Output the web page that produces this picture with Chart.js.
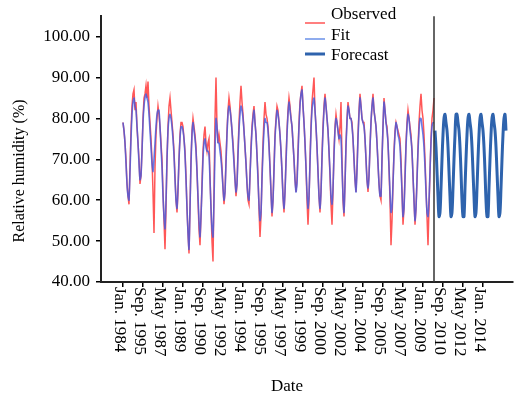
<!DOCTYPE html>
<html>
<head>
<meta charset="utf-8">
<script src="https://cdn.jsdelivr.net/npm/chart.js@4.4.1/dist/chart.umd.min.js"></script>
<style>
  body { margin: 0; background: #fff; }
</style>
</head>
<body>
<canvas id="humidityChart" width="515" height="397"></canvas>
<script>
// Monthly relative humidity (%), month 0 = Jan. 1984, last = Dec. 2009
const observed = [
    79, 77, 74, 70, 64, 61, 59, 68, 77, 83, 86, 87, // 1984
    82, 84, 78, 74, 70, 64, 66, 72, 80, 85, 86, 88, // 1985
    85, 89, 83, 79, 75, 70, 62, 52, 68, 76, 80, 83, // 1986
    81, 78, 74, 70, 62, 55, 48, 58, 70, 78, 83, 85, // 1987
    82, 79, 76, 72, 66, 60, 57, 62, 70, 76, 79, 79, // 1988
    78, 75, 72, 66, 58, 52, 47, 58, 70, 77, 80, 78, // 1989
    76, 73, 67, 60, 53, 49, 56, 64, 72, 76, 78, 74, // 1990
    72, 74, 75, 66, 58, 50, 45, 62, 80, 90, 78, 74, // 1991
    76, 74, 72, 68, 63, 59, 62, 70, 77, 82, 85, 83, // 1992
    80, 77, 74, 70, 65, 61, 64, 72, 79, 84, 88, 84, // 1993
    81, 77, 73, 69, 64, 60, 59, 66, 73, 78, 81, 83, // 1994
    79, 76, 71, 66, 58, 51, 56, 66, 74, 80, 84, 81, // 1995
    80, 78, 74, 68, 62, 56, 60, 68, 76, 80, 83, 82, // 1996
    79, 76, 72, 67, 61, 57, 62, 70, 77, 82, 85, 83, // 1997
    80, 78, 74, 70, 65, 62, 65, 72, 79, 84, 86, 88, // 1998
    83, 79, 74, 68, 60, 54, 60, 70, 78, 84, 87, 90, // 1999
    82, 78, 73, 67, 61, 57, 62, 71, 78, 83, 86, 83, // 2000
    80, 77, 72, 66, 59, 54, 62, 72, 78, 81, 79, 77, // 2001
    75, 78, 84, 70, 60, 56, 64, 74, 80, 84, 82, 80, // 2002
    80, 79, 75, 70, 65, 62, 68, 76, 82, 86, 83, 80, // 2003
    79, 79, 75, 70, 65, 62, 66, 73, 79, 83, 86, 82, // 2004
    80, 78, 74, 69, 64, 61, 60, 70, 78, 85, 82, 79, // 2005
    78, 74, 68, 60, 49, 55, 64, 72, 77, 79, 78, 77, // 2006
    76, 75, 70, 62, 54, 58, 66, 74, 79, 82, 80, 78, // 2007
    76, 72, 66, 60, 54, 58, 65, 73, 79, 83, 86, 82, // 2008
    80, 76, 70, 63, 56, 49, 58, 67, 75, 80, 82, 85  // 2009
];

const fitted = [
    79, 77, 74, 69, 64, 61, 60, 67, 75, 81, 84, 85, // 1984
    83, 82, 78, 74, 69, 65, 66, 72, 79, 83, 85, 86, // 1985
    85, 84, 81, 77, 73, 69, 67, 70, 74, 78, 81, 82, // 1986
    82, 78, 73, 68, 61, 56, 53, 60, 70, 77, 80, 81, // 1987
    80, 78, 75, 71, 65, 60, 58, 63, 70, 75, 78, 78, // 1988
    77, 75, 71, 65, 58, 52, 48, 58, 69, 76, 79, 77, // 1989
    75, 72, 67, 61, 55, 51, 56, 63, 70, 74, 75, 73, // 1990
    72, 72, 71, 65, 58, 53, 51, 60, 72, 80, 78, 74, // 1991
    74, 72, 70, 67, 63, 60, 62, 69, 76, 81, 83, 82, // 1992
    80, 77, 73, 69, 65, 62, 64, 71, 77, 81, 83, 82, // 1993
    80, 77, 73, 69, 64, 61, 60, 66, 72, 77, 80, 82, // 1994
    79, 76, 71, 65, 59, 55, 57, 65, 72, 77, 80, 79, // 1995
    79, 77, 73, 68, 62, 57, 60, 67, 75, 79, 82, 81, // 1996
    79, 76, 72, 67, 61, 58, 62, 69, 76, 81, 84, 82, // 1997
    80, 78, 74, 70, 65, 62, 64, 71, 78, 83, 86, 87, // 1998
    83, 79, 74, 68, 62, 58, 61, 69, 77, 82, 84, 85, // 1999
    82, 78, 73, 67, 61, 58, 62, 70, 77, 82, 85, 83, // 2000
    80, 77, 72, 67, 61, 59, 63, 71, 77, 80, 79, 77, // 2001
    75, 76, 75, 68, 61, 57, 64, 73, 79, 83, 82, 80, // 2002
    80, 78, 75, 70, 65, 62, 67, 75, 81, 85, 83, 80, // 2003
    79, 78, 75, 70, 65, 63, 66, 73, 79, 83, 85, 82, // 2004
    80, 78, 74, 69, 64, 61, 61, 70, 78, 84, 82, 79, // 2005
    77, 74, 68, 62, 57, 58, 64, 71, 76, 79, 78, 76, // 2006
    75, 73, 68, 62, 56, 58, 65, 73, 78, 81, 80, 77, // 2007
    75, 72, 66, 60, 55, 58, 65, 72, 77, 80, 80, 78, // 2008
    76, 73, 68, 62, 57, 56, 60, 67, 74, 78, 79, 79  // 2009
];

// Forecast, Jan. 2010 - Dec. 2015
const forecast = [
    77, 73, 67, 61, 56, 57, 63, 70, 76, 80, 81, 79, // 2010
    77, 73, 67, 61, 56, 57, 63, 70, 76, 81, 81, 79, // 2011
    77, 73, 67, 60, 56, 56, 63, 70, 76, 80, 81, 79, // 2012
    77, 73, 67, 61, 56, 57, 63, 70, 76, 80, 81, 79, // 2013
    77, 73, 67, 60, 56, 56, 63, 70, 76, 80, 81, 79, // 2014
    77, 73, 67, 61, 56, 57, 63, 70, 76, 80, 81, 77  // 2015
];

const xTickMonths = [0, 20, 40, 60, 80, 100, 120, 140, 160, 180, 200, 220, 240, 260, 280, 300, 320, 340, 360];
const xTickLabels = [
    'Jan. 1984', 'Sep. 1995', 'May 1987', 'Jan. 1989', 'Sep. 1990', 'May 1992', 'Jan. 1994',
    'Sep. 1995', 'May 1997', 'Jan. 1999', 'Sep. 2000', 'May 2002', 'Jan. 2004', 'Sep. 2005',
    'May 2007', 'Jan. 2009', 'Sep. 2010', 'May 2012', 'Jan. 2014'
];
const yTicks = [40, 50, 60, 70, 80, 90, 100];

const seriesNames = ['Observed', 'Fit', 'Forecast'];
const seriesColors = ['rgba(255, 45, 45, 0.8)', 'rgba(65, 90, 225, 0.8)', '#2e63ad'];
const seriesWidths = [1.5, 1.6, 3];
const seriesTension = [0, 0.2, 0.35];
const seriesOrder = [2, 1, 0]; // fit drawn over observed

const splitMonth = observed.length - 1;
const serif = "'Liberation Serif', 'DejaVu Serif', serif";

const toPoints = (arr, start) => arr.map((v, i) => ({ x: start + i, y: v }));

// rotated x labels, axis titles, split line and legend
const decorations = {
    id: 'decorations',
    afterDraw(chart) {
        const ctx = chart.ctx;
        const xs = chart.scales.x;
        const area = chart.chartArea;

        // split between fit and forecast
        const sx = xs.getPixelForValue(splitMonth);
        ctx.save();
        ctx.strokeStyle = '#333';
        ctx.lineWidth = 1.5;
        ctx.beginPath();
        ctx.moveTo(sx, area.top);
        ctx.lineTo(sx, area.bottom);
        ctx.stroke();

        // x tick labels, rotated clockwise
        ctx.fillStyle = '#000';
        ctx.font = '17px ' + serif;
        ctx.textAlign = 'left';
        ctx.textBaseline = 'middle';
        xTickMonths.forEach((m, i) => {
            ctx.save();
            ctx.translate(xs.getPixelForValue(m) - 4, area.bottom + 5);
            ctx.rotate(Math.PI / 2);
            ctx.fillText(xTickLabels[i], 0, 0);
            ctx.restore();
        });

        // axis titles
        ctx.textAlign = 'center';
        ctx.fillText('Date', 287, 387);
        ctx.save();
        ctx.translate(20, 171);
        ctx.rotate(-Math.PI / 2);
        ctx.font = '16px ' + serif;
        ctx.fillText('Relative humidity (%)', 0, 0);
        ctx.restore();

        // legend
        const lineY = [23, 39, 54];
        const textY = [15, 36, 56];
        ctx.textAlign = 'left';
        ctx.font = '17px ' + serif;
        seriesNames.forEach((name, i) => {
            ctx.strokeStyle = i === 2 ? seriesColors[2] : (i === 0 ? '#ff5555' : '#6a90e8');
            ctx.lineWidth = i === 2 ? 3 : 1.5;
            ctx.beginPath();
            ctx.moveTo(305, lineY[i]);
            ctx.lineTo(325, lineY[i]);
            ctx.stroke();
            ctx.fillText(name, 331, textY[i]);
        });
        ctx.restore();
    }
};

new Chart(document.getElementById('humidityChart'), {
    type: 'line',
    data: {
        datasets: [
            { label: seriesNames[0], data: toPoints(observed, 0) },
            { label: seriesNames[1], data: toPoints(fitted, 0) },
            { label: seriesNames[2], data: toPoints(forecast, observed.length) }
        ].map((d, i) => Object.assign(d, {
            borderColor: seriesColors[i],
            borderWidth: seriesWidths[i],
            tension: seriesTension[i],
            order: seriesOrder[i],
            pointRadius: 0,
            fill: false
        }))
    },
    options: {
        responsive: false,
        animation: false,
        layout: { padding: { top: 13, right: 2, left: 0, bottom: 0 } },
        plugins: {
            legend: { display: false },
            tooltip: { enabled: false }
        },
        scales: {
            x: {
                type: 'linear',
                min: -22,
                max: 390,
                afterBuildTicks: s => { s.ticks = xTickMonths.map(v => ({ value: v })); },
                afterFit: s => { s.height = 115; },
                ticks: { display: false },
                grid: { drawOnChartArea: false, drawTicks: true, tickLength: 5, color: '#000', lineWidth: 1.5 },
                border: { display: true, color: '#222', width: 2 }
            },
            y: {
                min: 40,
                max: 105,
                afterBuildTicks: s => { s.ticks = yTicks.map(v => ({ value: v })); },
                afterFit: s => { s.width = 101; },
                ticks: {
                    color: '#000',
                    padding: 6,
                    font: { family: serif, size: 17 },
                    callback: v => v.toFixed(2)
                },
                grid: { drawOnChartArea: false, drawTicks: true, tickLength: 5, color: '#000', lineWidth: 1.5 },
                border: { display: true, color: '#222', width: 2 }
            }
        }
    },
    plugins: [decorations]
});
</script>
</body>
</html>
